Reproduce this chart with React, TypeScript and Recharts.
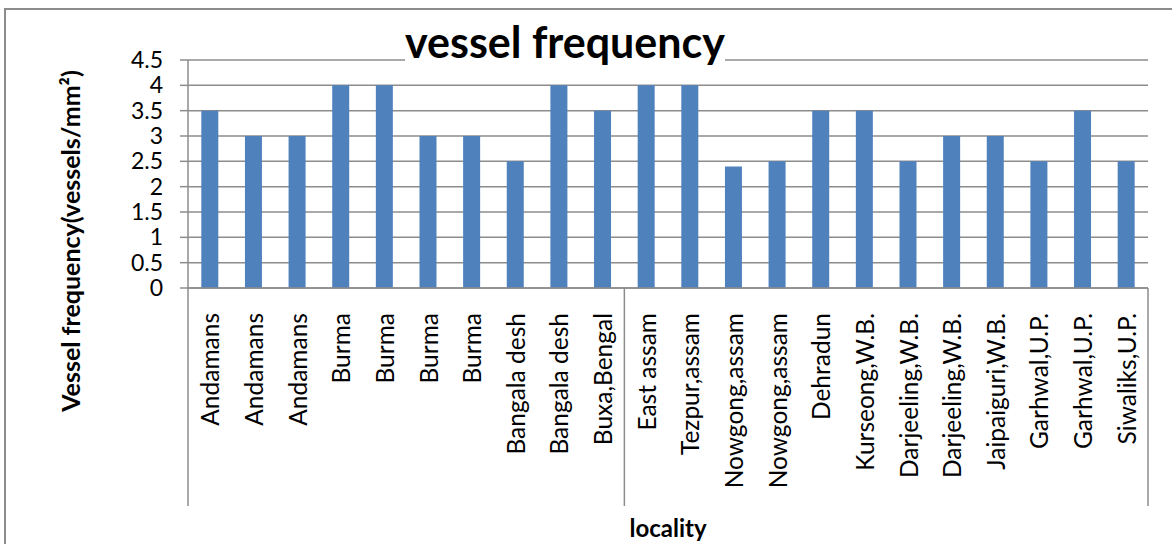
import React from "react";
import { BarChart, Bar, XAxis, YAxis, CartesianGrid, Label } from "recharts";

// Sample localities, in plotting order
const localities = [
  "Andamans", "Andamans", "Andamans",
  "Burma", "Burma", "Burma", "Burma",
  "Bangala desh", "Bangala desh", "Buxa,Bengal",
  "East assam", "Tezpur,assam", "Nowgong,assam", "Nowgong,assam",
  "Dehradun", "Kurseong,W.B.", "Darjeeling,W.B.", "Darjeeling,W.B.",
  "Jaipaiguri,W.B.", "Garhwal,U.P.", "Garhwal,U.P.", "Siwaliks,U.P.",
];

// Vessel frequency (vessels/mm²) per sample
const vesselFrequency = [
  3.5, 3, 3,
  4, 4, 3, 3,
  2.5, 4, 3.5,
  4, 4, 2.4, 2.5,
  3.5, 3.5, 2.5, 3,
  3, 2.5, 3.5, 2.5,
];

// Category indices where a new group of the two-level axis begins
const groupStarts = [0, 10];

const yTicks = [0, 0.5, 1, 1.5, 2, 2.5, 3, 3.5, 4, 4.5];

const data = localities.map((name, i) => ({
  key: String(i),
  name,
  value: vesselFrequency[i],
}));

const FONT = "Lato, 'Open Sans', sans-serif";
const GRID = "#8c8c8c";
const BAR = "#4f81bd";
const GROUP_LINE_LENGTH = 218;

const CategoryTick = (props: any) => {
  const { x, y, payload, visibleTicksCount, width } = props;
  const i: number = payload.index ?? props.index;
  const half: number =
    payload.offset && payload.offset > 0
      ? payload.offset
      : width / visibleTicksCount / 2;
  const label = localities[i];
  const ty = y + 25;
  return (
    <g>
      <text
        x={x}
        y={ty}
        transform={`rotate(-90 ${x} ${ty})`}
        textAnchor="end"
        dominantBaseline="central"
        fontFamily={FONT}
        fontSize={24.5}
        fill="#000"
      >
        {label}
      </text>
      {groupStarts.includes(i) && (
        <line
          x1={x - half}
          x2={x - half}
          y1={y}
          y2={y + GROUP_LINE_LENGTH}
          stroke={GRID}
          strokeWidth={1.5}
        />
      )}
      {i === localities.length - 1 && (
        <line
          x1={x + half}
          x2={x + half}
          y1={y}
          y2={y + GROUP_LINE_LENGTH}
          stroke={GRID}
          strokeWidth={1.5}
        />
      )}
    </g>
  );
};

const YAxisTitle = (props: any) => {
  const { viewBox } = props;
  const cy = viewBox.y + viewBox.height / 2 + 67;
  const cx = 80;
  return (
    <text
      x={cx}
      y={cy}
      transform={`rotate(-90 ${cx} ${cy})`}
      textAnchor="middle"
      fontFamily={FONT}
      fontWeight={700}
      fontSize={25}
      fill="#000"
    >
      Vessel frequency(vessels/mm²)
    </text>
  );
};

export default function App() {
  return (
    <div
      style={{
        position: "absolute",
        left: 0,
        top: 0,
        width: 1172,
        height: 544,
        background: "#fff",
        overflow: "hidden",
      }}
    >
      <div
        style={{
          position: "absolute",
          left: 4,
          top: 8,
          width: 1200,
          height: 600,
          border: `2px solid ${GRID}`,
          boxSizing: "border-box",
        }}
      />
      <div style={{ position: "absolute", left: 0, top: 0 }}>
        <BarChart
          width={1172}
          height={544}
          data={data}
          margin={{ top: 60, right: 24, bottom: 0, left: 0 }}
          barCategoryGap="30.5%"
        >
          <CartesianGrid vertical={false} stroke={GRID} strokeWidth={1.5} />
          <XAxis
            dataKey="key"
            type="category"
            interval={0}
            tick={<CategoryTick />}
            tickLine={false}
            tickSize={0}
            tickMargin={0}
            axisLine={{ stroke: GRID, strokeWidth: 1.5 }}
            height={256}
          />
          <YAxis
            domain={[0, 4.5]}
            ticks={yTicks}
            interval={0}
            width={188}
            tickSize={8}
            tickMargin={17}
            tickLine={{ stroke: GRID, strokeWidth: 1.5 }}
            axisLine={{ stroke: GRID, strokeWidth: 1.5 }}
            tick={{ fontFamily: FONT, fontSize: 23, fill: "#000" }}
          >
            <Label content={<YAxisTitle />} />
          </YAxis>
          <Bar dataKey="value" fill={BAR} isAnimationActive={false} />
        </BarChart>
      </div>
      <div
        style={{
          position: "absolute",
          left: 565,
          top: 18,
          transform: "translateX(-50%)",
          background: "#fff",
          fontFamily: FONT,
          fontWeight: 700,
          fontSize: 43,
          lineHeight: "48px",
          whiteSpace: "nowrap",
          color: "#000",
        }}
      >
        vessel frequency
      </div>
      <div
        style={{
          position: "absolute",
          left: 668,
          top: 513,
          transform: "translateX(-50%)",
          fontFamily: FONT,
          fontWeight: 700,
          fontSize: 24,
          lineHeight: "30px",
          whiteSpace: "nowrap",
          color: "#000",
        }}
      >
        locality
      </div>
    </div>
  );
}
